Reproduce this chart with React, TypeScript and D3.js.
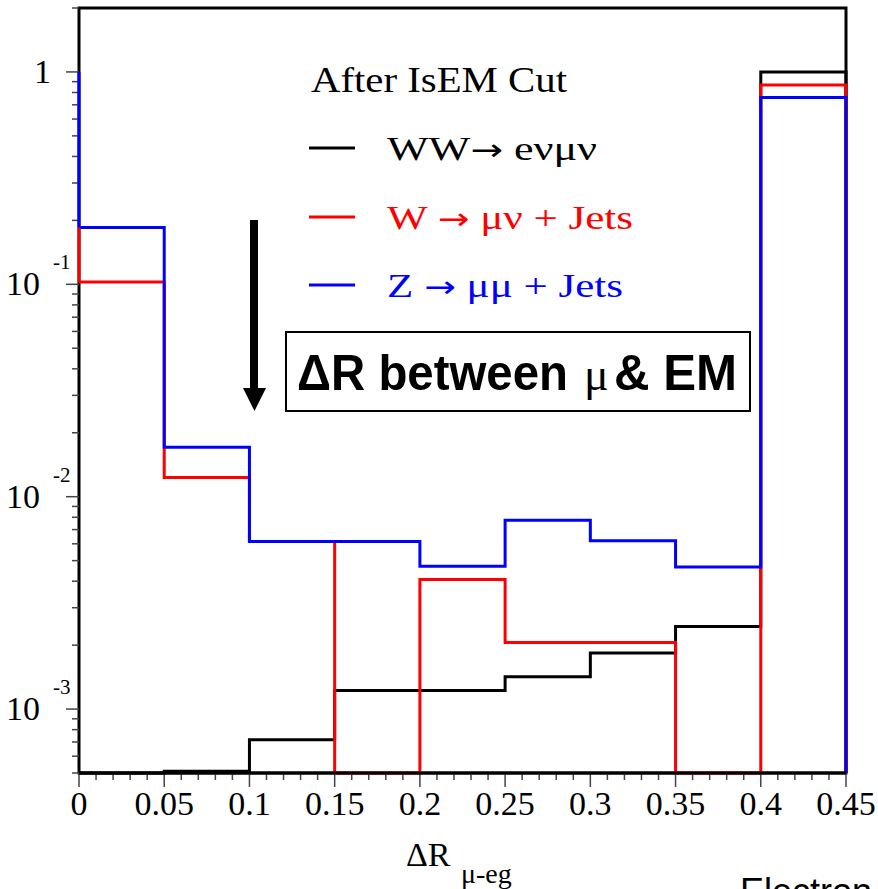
import React from "react";
import * as d3 from "d3";

// ---- data ----
const binEdges = [0, 0.05, 0.1, 0.15, 0.2, 0.25, 0.3, 0.35, 0.4, 0.45];
const wwValues = [0, 5.1e-4, 7.17e-4, 1.224e-3, 1.224e-3, 1.42e-3, 1.835e-3, 2.45e-3, 1.0];
const wJetsValues = [0.1024, 0.0123, 0.00616, 0, 0.00407, 0.00206, 0.00206, 0, 0.869];
const zJetsValues = [0.185, 0.0171, 0.00616, 0.00616, 0.0047, 0.00774, 0.0062, 0.00467, 0.757];
const leftEdgeTop = 1;

const xTickValues = [0, 0.05, 0.1, 0.15, 0.2, 0.25, 0.3, 0.35, 0.4, 0.45];
const xTickLabels = ["0", "0.05", "0.1", "0.15", "0.2", "0.25", "0.3", "0.35", "0.4", "0.45"];
const yMajorTicks = [1, 0.1, 0.01, 0.001];
const yMajorExponents = ["", "-1", "-2", "-3"];

const seriesPre = ["WW", "W ", "Z "];
const seriesPost = [" e\u03BD\u03BC\u03BD", " \u03BC\u03BD + Jets", " \u03BC\u03BC + Jets"];
const seriesColors = ["#000000", "#ff0000", "#0000ff"];

const SERIF = "'Liberation Serif', 'Times New Roman', serif";
const SANS = "'Liberation Sans', Arial, sans-serif";
const ARROWFONT = "'DejaVu Sans', sans-serif";

export default function App() {
  const left = 79, right = 846, top = 8, bottom = 773;
  const yMin = 5e-4, yMax = 2;
  const x = d3.scaleLinear().domain([0, 0.45]).range([left, right]);
  const y = d3.scaleLog().domain([yMin, yMax]).range([bottom, top]);
  const yv = (v: number) => y(Math.max(v, yMin));

  const line = d3.line<[number, number]>().x((d) => x(d[0])).y((d) => yv(d[1]));
  const histPath = (vals: number[]) => {
    const pts: [number, number][] = [];
    vals.forEach((v, i) => {
      pts.push([binEdges[i], v]);
      pts.push([binEdges[i + 1], v]);
    });
    pts.push([binEdges[binEdges.length - 1], 0]);
    return line(pts) || "";
  };
  const allSeries = [wwValues, wJetsValues, zJetsValues];

  const yMinor: number[] = [];
  for (let e = -4; e <= 0; e++) {
    for (let m = 2; m <= 9; m++) {
      const v = m * Math.pow(10, e);
      if (v >= yMin - 1e-12 && v <= yMax + 1e-12) yMinor.push(v);
    }
  }
  const xMinor = d3.range(0, 46).map((i) => i / 100).filter((v) => Math.round(v * 100) % 5 !== 0);

  const tickColor = "#444";

  return (
    <svg width={878} height={889} style={{ position: "absolute", left: 0, top: 0, background: "#fff" }}>
      <rect x={0} y={0} width={878} height={889} fill="#fff" />
      <rect x={left} y={top} width={right - left} height={bottom - top} fill="none" stroke="#000" strokeWidth={3} />

      {yMajorTicks.map((v, i) => (
        <line key={"ym" + i} x1={left - 13} x2={left} y1={y(v)} y2={y(v)} stroke={tickColor} strokeWidth={1.5} />
      ))}
      {yMinor.map((v, i) => (
        <line key={"yn" + i} x1={left - 7} x2={left} y1={y(v)} y2={y(v)} stroke={tickColor} strokeWidth={1.5} />
      ))}
      {xTickValues.map((v, i) => (
        <line key={"xm" + i} x1={x(v)} x2={x(v)} y1={bottom} y2={bottom + 14} stroke={tickColor} strokeWidth={1.5} />
      ))}
      {xMinor.map((v, i) => (
        <line key={"xn" + i} x1={x(v)} x2={x(v)} y1={bottom} y2={bottom + 7} stroke={tickColor} strokeWidth={1.5} />
      ))}

      {allSeries.map((vals, i) => (
        <path key={"h" + i} d={histPath(vals)} fill="none" stroke={seriesColors[i]} strokeWidth={3} strokeLinejoin="miter" />
      ))}
      <line x1={left} x2={right} y1={bottom} y2={bottom} stroke="#000" strokeWidth={3} />
      <line x1={x(0)} x2={x(0)} y1={yv(leftEdgeTop)} y2={yv(zJetsValues[0])} stroke={seriesColors[2]} strokeWidth={3} />
      <line x1={x(0)} x2={x(0)} y1={yv(zJetsValues[0])} y2={yv(wJetsValues[0])} stroke={seriesColors[1]} strokeWidth={3} />

      {yMajorTicks.map((v, i) =>
        yMajorExponents[i] === "" ? (
          <text key={"yl" + i} x={51} y={y(v) + 11} fontFamily={SERIF} fontSize={34} textAnchor="end" fill="#000">1</text>
        ) : (
          <g key={"yl" + i}>
            <text x={6} y={y(v) + 11} fontFamily={SERIF} fontSize={34} fill="#000">10</text>
            <text x={53} y={y(v) - 15} fontFamily={SERIF} fontSize={21} fill="#000">{yMajorExponents[i]}</text>
          </g>
        )
      )}
      {xTickValues.map((v, i) => (
        <text key={"xl" + i} x={x(v)} y={815} fontFamily={SERIF} fontSize={34} textAnchor="middle" fill="#000">
          {xTickLabels[i]}
        </text>
      ))}
      <text x={406} y={866} fontFamily={SERIF} fontSize={34} fill="#000">
        {"\u0394R"}
      </text>
      <text x={461} y={883} fontFamily={SERIF} fontSize={28} fill="#000">
        {"\u03BC-eg"}
      </text>

      <text x={311} y={92} fontFamily={SERIF} fontSize={36} fill="#000" textLength={256} lengthAdjust="spacingAndGlyphs">
        After IsEM Cut
      </text>
      {seriesPre.map((pre, i) => {
        const ly = [148, 217, 285][i];
        const lens = [210, 246, 236][i];
        return (
          <g key={"lg" + i}>
            <line x1={309} x2={355} y1={ly} y2={ly} stroke={seriesColors[i]} strokeWidth={3} />
            <text x={387} y={ly + 12} fontFamily={SERIF} fontSize={34} fill={seriesColors[i]} textLength={lens} lengthAdjust="spacingAndGlyphs">
              {pre}
              <tspan fontFamily={ARROWFONT} fontSize={30}>{"\u2192"}</tspan>
              {seriesPost[i]}
            </text>
          </g>
        );
      })}

      <rect x={250} y={220} width={8} height={170} fill="#000" />
      <polygon points="243,388 266,388 254.5,411" fill="#000" />

      <rect x={286} y={332} width={464} height={79} fill="#fff" stroke="#000" strokeWidth={2} />
      <text x={297} y={390} fontFamily={SANS} fontWeight="bold" fontSize={50} fill="#000" textLength={271} lengthAdjust="spacingAndGlyphs">
        {"\u0394R between"}
      </text>
      <text x={584} y={390} fontFamily={SERIF} fontSize={46} fill="#000">
        {"\u03BC"}
      </text>
      <text x={614} y={390} fontFamily={SANS} fontWeight="bold" fontSize={50} fill="#000" textLength={123} lengthAdjust="spacingAndGlyphs">
        {"& EM"}
      </text>

      <text x={740} y={904} fontFamily={SANS} fontSize={36} fill="#000">
        Electron
      </text>
    </svg>
  );
}
